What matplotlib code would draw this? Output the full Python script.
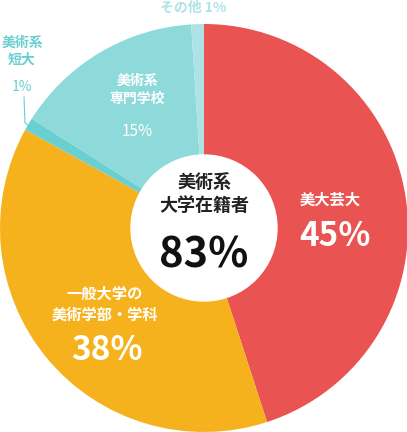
import matplotlib.pyplot as plt
from matplotlib.patches import Circle

plt.rcParams['font.family'] = ['Noto Sans CJK JP', 'DejaVu Sans']

labels = ["美大芸大", "一般大学の\n美術学部・学科", "美術系短大", "美術系\n専門学校", "その他"]
values = [45, 38, 1, 15, 1]
colors = ["#E95352", "#F6B21C", "#6ACFD1", "#8EDADB", "#AEE3E5"]
center_label = "美術系\n大学在籍者"
center_value = "83%"

W, H = 407, 432
fig = plt.figure(figsize=(W / 100, H / 100), dpi=100)
ax = fig.add_axes([0, 0, 1, 1])

cx, cy, r = 204, 204, 204
ax.pie(values, colors=colors, startangle=90, counterclock=False,
       center=(cx, cy), radius=r, frame=True,
       wedgeprops=dict(linewidth=0))
ax.set_xlim(0, W)
ax.set_ylim(0, H)
ax.set_aspect("equal")
ax.axis("off")

ax.add_patch(Circle((cx, cy), 73, color="white", zorder=5))
ax.text(cx, cy + 34, center_label, ha="center", va="center", fontsize=13,
        color="#222222", fontweight="bold", linespacing=1.3, zorder=6)
ax.text(cx, cy - 28, center_value, ha="center", va="center", fontsize=30,
        color="#111111", fontweight="bold", zorder=6)

# slice labels
ax.text(330, 232, labels[0], ha="center", va="center", fontsize=11,
        color="white", fontweight="bold")
ax.text(335, 196, f"{values[0]}%", ha="center", va="center", fontsize=24,
        color="white", fontweight="bold")
ax.text(105, 128, labels[1], ha="center", va="center", fontsize=11,
        color="white", fontweight="bold", linespacing=1.4)
ax.text(107, 82, f"{values[1]}%", ha="center", va="center", fontsize=24,
        color="white", fontweight="bold")
ax.text(137, 342, labels[3], ha="center", va="center", fontsize=10,
        color="white", fontweight="bold", linespacing=1.4)
ax.text(137, 300, f"{values[3]}%", ha="center", va="center", fontsize=11,
        color="white")
ax.text(193, 424, f"{labels[4]} {values[4]}%", ha="center", va="center",
        fontsize=10, color="#AEE3E5", fontweight="bold")
ax.text(22, 381, "美術系\n短大", ha="center", va="center", fontsize=10,
        color="#6ACFD1", fontweight="bold", linespacing=1.3)
ax.text(22, 345, f"{values[2]}%", ha="center", va="center", fontsize=10,
        color="#6ACFD1")
ax.plot([24, 25, 30], [335, 309, 305], color="#6ACFD1", lw=0.8)

fig.savefig("out.png", dpi=100)
